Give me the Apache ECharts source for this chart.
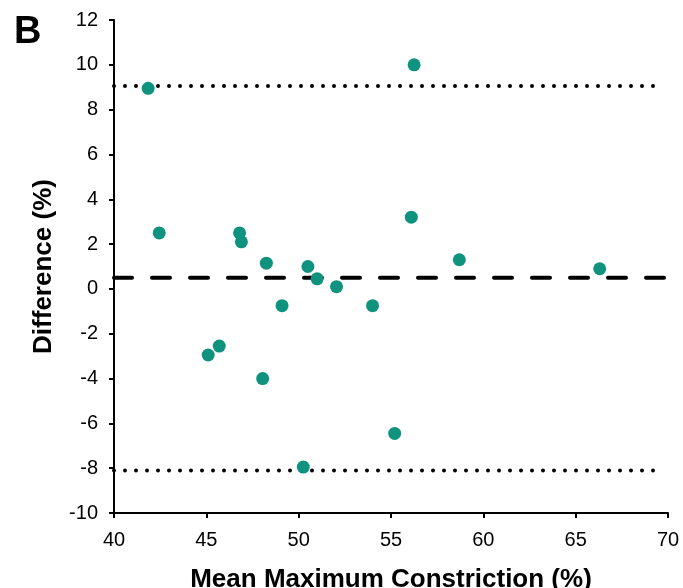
<!DOCTYPE html>
<html>
<head>
<meta charset="utf-8">
<script src="https://cdn.jsdelivr.net/npm/echarts@6/dist/echarts.min.js"></script>
<style>
  html, body { margin: 0; padding: 0; background: #fff; }
  #chart { width: 683px; height: 588px; }
</style>
</head>
<body>
<div id="chart"></div>
<script>
	'use strict';

	/* data */
	var meanX = [41.85, 42.45, 56.25, 46.8, 46.9, 48.25, 50.5, 51.0, 52.05, 49.1, 54.0, 56.1, 58.7, 66.3, 45.1, 45.7, 48.05, 55.2, 50.25];
	var diffY = [8.95, 2.5, 10.0, 2.5, 2.1, 1.15, 1.0, 0.45, 0.1, -0.75, -0.75, 3.2, 1.3, 0.9, -2.95, -2.55, -4.0, -6.45, -7.95];
	var upperLimit = 9.05;
	var meanDiff = 0.5;
	var lowerLimit = -8.1;
	var dottedRange = [40, 69.7];
	var dashedRange = [40, 70];

	var points = meanX.map(function (x, i) { return [x, diffY[i]]; });

	function hline(y, range) {
		return [[range[0], y], [range[1], y]];
	}

	var chart = echarts.init(document.getElementById('chart'));

	var axisText = { fontFamily: 'Liberation Sans', fontSize: 20, color: '#000' };
	var nameText = { fontFamily: 'Liberation Sans', fontSize: 26, fontWeight: 'bold', color: '#000' };

	var option = {
		animation: false,
		backgroundColor: '#fff',
		title: {
			text: 'B',
			left: 9,
			top: 9,
			textStyle: { fontFamily: 'Liberation Sans', fontSize: 38, fontWeight: 'bold', color: '#000' }
		},
		grid: {
			left: 114,
			right: 15,
			top: 20,
			bottom: 75,
			outerBoundsMode: 'none'
		},
		xAxis: {
			type: 'value',
			min: 40,
			max: 70,
			interval: 5,
			name: 'Mean Maximum Constriction (%)',
			nameLocation: 'middle',
			nameGap: 54,
			nameTextStyle: nameText,
			splitLine: { show: false },
			axisLine: { onZero: false, lineStyle: { color: '#000', width: 2 } },
			axisTick: { length: 5, lineStyle: { color: '#000', width: 2 } },
			axisLabel: Object.assign({ margin: 17 }, axisText)
		},
		yAxis: {
			type: 'value',
			min: -10,
			max: 12,
			interval: 2,
			name: 'Difference (%)',
			nameLocation: 'middle',
			nameGap: 57,
			nameTextStyle: nameText,
			splitLine: { show: false },
			axisLine: { onZero: false, lineStyle: { color: '#000', width: 2 } },
			axisTick: { length: 5, lineStyle: { color: '#000', width: 2 } },
			axisLabel: Object.assign({ margin: 16 }, axisText)
		},
		series: [
			{
				name: 'Upper limit',
				type: 'line',
				data: hline(upperLimit, dottedRange),
				symbol: 'none',
				lineStyle: { color: '#000', width: 4, type: [0, 11], cap: 'round' },
				z: 1
			},
			{
				name: 'Lower limit',
				type: 'line',
				data: hline(lowerLimit, dottedRange),
				symbol: 'none',
				lineStyle: { color: '#000', width: 4, type: [0, 11], cap: 'round' },
				z: 1
			},
			{
				name: 'Mean difference',
				type: 'line',
				data: hline(meanDiff, dashedRange),
				symbol: 'none',
				lineStyle: { color: '#000', width: 4, type: [18, 20], cap: 'round' },
				z: 1
			},
			{
				name: 'Difference',
				type: 'scatter',
				data: points,
				symbolSize: 13,
				itemStyle: { color: '#0f937f', opacity: 1 },
				z: 3
			}
		]
	};
	chart.setOption(option);
</script>
</body>
</html>
